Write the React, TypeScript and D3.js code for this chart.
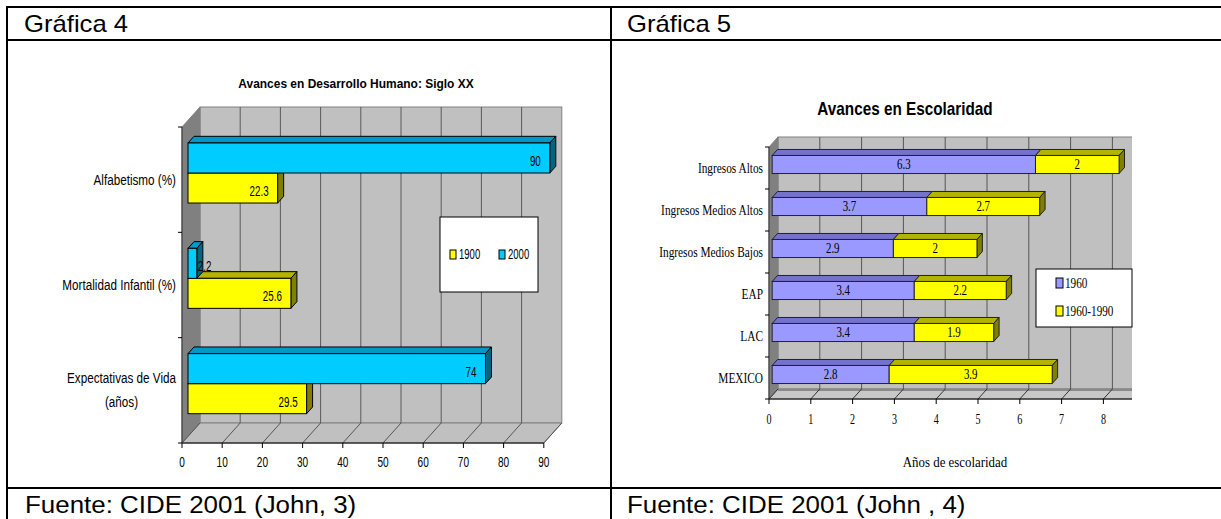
import React, { useEffect, useRef } from "react";
import * as d3 from "d3";

// ---------- data ----------
const headerLeft = "Gráfica 4";
const headerRight = "Gráfica 5";
const footerLeft = "Fuente: CIDE 2001 (John, 3)";
const footerRight = "Fuente: CIDE 2001 (John , 4)";

const leftTitle = "Avances en Desarrollo Humano: Siglo XX";
const leftCategories = ["Alfabetismo (%)", "Mortalidad Infantil (%)", "Expectativas de Vida\n(años)"];
const leftSeries = ["2000", "1900"];
const values1900 = [22.3, 25.6, 29.5];
const values2000 = [90, 2.2, 74];
const leftTicks = [0, 10, 20, 30, 40, 50, 60, 70, 80, 90];

const rightTitle = "Avances en Escolaridad";
const rightCategories = ["Ingresos Altos", "Ingresos Medios Altos", "Ingresos Medios Bajos", "EAP", "LAC", "MEXICO"];
const rightSeries = ["1960", "1960-1990"];
const values1960 = [6.3, 3.7, 2.9, 3.4, 3.4, 2.8];
const values1960to1990 = [2, 2.7, 2, 2.2, 1.9, 3.9];
const rightTicks = [0, 1, 2, 3, 4, 5, 6, 7, 8];
const rightAxisTitle = "Años de escolaridad";

// ---------- styles ----------
const SANS = "'Liberation Sans', Arial, Helvetica, sans-serif";
const SERIF = "'Liberation Serif', 'Times New Roman', serif";
const CYAN = { front: "#00ccff", top: "#0099c6", side: "#006680" };
const YELLOW = { front: "#ffff00", top: "#b3b300", side: "#808000" };
const BLUE = { front: "#9999ff", top: "#7373cc", side: "#4d4d80" };

type Sel = d3.Selection<any, any, any, any>;

function txt(g: Sel, x: number, y: number, s: string, size: number, family: string, opts: any = {}) {
  const { anchor = "start", sx = 1, weight = "normal", fill = "#000" } = opts;
  return g
    .append("text")
    .attr("transform", `translate(${x},${y}) scale(${sx},1)`)
    .attr("text-anchor", anchor)
    .attr("font-size", size)
    .attr("font-family", family)
    .attr("font-weight", weight)
    .attr("fill", fill)
    .text(s);
}

function poly(g: Sel, pts: number[][], fill: string, stroke: string, sw = 1) {
  return g
    .append("polygon")
    .attr("points", pts.map((p) => p.join(",")).join(" "))
    .attr("fill", fill)
    .attr("stroke", stroke)
    .attr("stroke-width", sw)
    .attr("stroke-linejoin", "round");
}

function bar3d(g: Sel, xa: number, xb: number, yt: number, h: number, ddx: number, ddy: number, c: any, side: boolean, stroke: string) {
  poly(g, [[xa, yt], [xb, yt], [xb + ddx, yt + ddy], [xa + ddx, yt + ddy]], c.top, stroke);
  if (side) poly(g, [[xb, yt], [xb + ddx, yt + ddy], [xb + ddx, yt + h + ddy], [xb, yt + h]], c.side, stroke);
  g.append("rect").attr("x", xa).attr("y", yt).attr("width", xb - xa).attr("height", h).attr("fill", c.front).attr("stroke", stroke);
}

function drawFrame(svg: Sel) {
  const g = svg.append("g");
  const line = (x1: number, y1: number, x2: number, y2: number) =>
    g.append("line").attr("x1", x1).attr("y1", y1).attr("x2", x2).attr("y2", y2).attr("stroke", "#000").attr("stroke-width", 2);
  line(6, 7, 1221, 7);
  line(6, 40, 1221, 40);
  line(6, 488, 1221, 488);
  line(7, 6, 7, 519);
  line(611, 6, 611, 519);
  txt(g, 24, 32, headerLeft, 24, SANS, { sx: 1.07 });
  txt(g, 627, 32, headerRight, 24, SANS, { sx: 1.07 });
  txt(g, 25, 513, footerLeft, 24, SANS, { sx: 1.08 });
  txt(g, 627, 513, footerRight, 24, SANS, { sx: 1.08 });
}

function drawLeft(svg: Sel) {
  const g = svg.append("g");
  const dx = 18, dy = -20;
  const t1 = 1 / 3, t2 = 2 / 3;
  const x = d3.scaleLinear().domain([0, 90]).range([182, 543.8]);
  const y = d3.scaleBand<string>().domain(leftCategories).range([127, 443]).paddingInner(0.43).paddingOuter(0.215);
  const ys = d3.scaleBand<string>().domain(leftSeries).range([0, y.bandwidth()]);
  const [x0, x1] = x.range();
  const [y0, y1] = y.range();

  // walls and floor
  g.append("rect").attr("x", x0 + dx).attr("y", y0 + dy).attr("width", x1 - x0).attr("height", y1 - y0)
    .attr("fill", "#c0c0c0").attr("stroke", "#808080");
  poly(g, [[x0, y0], [x0 + dx, y0 + dy], [x0 + dx, y1 + dy], [x0, y1]], "#808080", "#808080");
  poly(g, [[x0, y1], [x0 + dx, y1 + dy], [x1 + dx, y1 + dy], [x1, y1]], "#c0c0c0", "#808080");

  leftTicks.forEach((t) => {
    const px = x(t);
    if (t > 0 && t < 90)
      g.append("line").attr("x1", px + dx).attr("y1", y0 + dy).attr("x2", px + dx).attr("y2", y1 + dy).attr("stroke", "#5a5a5a");
    g.append("line").attr("x1", px).attr("y1", y1).attr("x2", px + dx).attr("y2", y1 + dy).attr("stroke", "#555");
    g.append("line").attr("x1", px).attr("y1", y1).attr("x2", px).attr("y2", y1 + 5).attr("stroke", "#000");
    txt(g, px, 467, String(t), 14, SANS, { anchor: "middle", sx: 0.72 });
  });
  g.append("line").attr("x1", x0).attr("y1", y1).attr("x2", x1).attr("y2", y1).attr("stroke", "#000");
  g.append("line").attr("x1", x0).attr("y1", y0).attr("x2", x0).attr("y2", y1).attr("stroke", "#333");
  d3.range(leftCategories.length + 1).forEach((i) => {
    const yy = y0 + i * y.step();
    g.append("line").attr("x1", x0 - 4).attr("y1", yy).attr("x2", x0).attr("y2", yy).attr("stroke", "#000");
  });

  // bars
  const ox = dx * t1, oy = dy * t1;
  const ddx = dx * (t2 - t1), ddy = dy * (t2 - t1);
  leftCategories.forEach((cat, i) => {
    const series = [
      { name: "1900", v: values1900[i], c: YELLOW },
      { name: "2000", v: values2000[i], c: CYAN },
    ];
    series.forEach((s) => {
      const yt = (y(cat) as number) + (ys(s.name) as number) + oy;
      const xa = x(0) + ox, xb = x(s.v) + ox;
      bar3d(g, xa, xb, yt, ys.bandwidth(), ddx, ddy, s.c, true, "#000");
      const cy = yt + ys.bandwidth() / 2 + 3;
      if (xb - xa > 30) txt(g, xb - 9, cy + 5, String(s.v), 14, SANS, { anchor: "end", sx: 0.7 });
      else txt(g, xb + 1, cy + 5, String(s.v), 14, SANS, { anchor: "start", sx: 0.7 });
    });
    // category label
    const lines = cat.split("\n");
    const cy = (y(cat) as number) + y.bandwidth() / 2;
    const size = 15, sx = 0.78;
    if (lines.length === 1) {
      txt(g, x0 - 6, cy + 5, lines[0], size, SANS, { anchor: "end", sx });
    } else {
      const nodes = lines.map((l) => txt(g, 0, 0, l, size, SANS, { anchor: "middle", sx }));
      const maxW = d3.max(nodes, (n) => (n.node() as SVGTextElement).getComputedTextLength() * sx) || 0;
      nodes.forEach((n, j) => {
        const by = cy + (j - (lines.length - 1) / 2) * 24 + 5;
        n.attr("transform", `translate(${x0 - 6 - maxW / 2},${by}) scale(${sx},1)`);
      });
    }
  });

  // legend
  const lg = g.append("g");
  lg.append("rect").attr("x", 440).attr("y", 217).attr("width", 98).attr("height", 75).attr("fill", "#fff").attr("stroke", "#000");
  const legendItems = [
    { name: "1900", c: YELLOW.front, x: 450 },
    { name: "2000", c: CYAN.front, x: 499 },
  ];
  legendItems.forEach((it) => {
    lg.append("rect").attr("x", it.x).attr("y", 250).attr("width", 6).attr("height", 9).attr("fill", it.c).attr("stroke", "#000");
    txt(lg, it.x + 9, 259, it.name, 14, SANS, { sx: 0.68 });
  });

  txt(g, 356, 88, leftTitle, 13, SANS, { anchor: "middle", weight: "bold", sx: 0.92 });
}

function drawRight(svg: Sel) {
  const g = svg.append("g");
  const clipId = "rclip";
  svg.append("defs").append("clipPath").attr("id", clipId).append("rect").attr("x", 612).attr("y", 42).attr("width", 1132 - 612).attr("height", 440);
  const pg = g.append("g").attr("clip-path", `url(#${clipId})`);
  const dx = 9, dy = -10;
  const t1 = 0.35, t2 = 0.95;
  const x = d3.scaleLinear().domain([0, 9]).range([769, 769 + 9 * 41.8]);
  const y = d3.scaleBand<string>().domain(rightCategories).range([147, 399]).paddingInner(0.57).paddingOuter(0.285);
  const [x0, x1] = x.range();
  const [y0, y1] = y.range();

  pg.append("rect").attr("x", x0 + dx).attr("y", y0 + dy).attr("width", x1 - x0).attr("height", y1 - y0)
    .attr("fill", "#c0c0c0").attr("stroke", "#808080");
  poly(pg, [[x0, y0], [x0 + dx, y0 + dy], [x0 + dx, y1 + dy], [x0, y1]], "#808080", "#808080");
  poly(pg, [[x0, y1], [x0 + dx, y1 + dy], [x1 + dx, y1 + dy], [x1, y1]], "#c8c8c8", "#808080");
  pg.append("line").attr("x1", x0 + dx).attr("y1", y1 + dy + 1).attr("x2", x1 + dx).attr("y2", y1 + dy + 1).attr("stroke", "#8a8a8a").attr("stroke-width", 2);

  x.ticks(9).forEach((t) => {
    const px = x(t);
    if (t > 0)
      pg.append("line").attr("x1", px + dx).attr("y1", y0 + dy).attr("x2", px + dx).attr("y2", y1 + dy).attr("stroke", "#555");
    pg.append("line").attr("x1", px).attr("y1", y1).attr("x2", px + dx).attr("y2", y1 + dy).attr("stroke", "#333");
  });
  pg.append("line").attr("x1", x0).attr("y1", y1).attr("x2", x1).attr("y2", y1).attr("stroke", "#000");
  g.append("line").attr("x1", x0).attr("y1", y0).attr("x2", x0).attr("y2", y1).attr("stroke", "#333");
  rightTicks.forEach((t) => {
    const px = x(t);
    g.append("line").attr("x1", px).attr("y1", y1).attr("x2", px).attr("y2", y1 + 5).attr("stroke", "#000");
    txt(g, px, 423.5, String(t), 14, SERIF, { anchor: "middle", sx: 0.72 });
  });
  d3.range(rightCategories.length + 1).forEach((i) => {
    const yy = y0 + i * y.step();
    g.append("line").attr("x1", x0 - 4).attr("y1", yy).attr("x2", x0).attr("y2", yy).attr("stroke", "#000");
  });

  const ox = dx * t1, oy = dy * t1;
  const ddx = dx * (t2 - t1), ddy = dy * (t2 - t1);
  rightCategories.forEach((cat, i) => {
    const a = values1960[i], b = values1960to1990[i];
    const yt = (y(cat) as number) + oy;
    const h = y.bandwidth();
    const xa = x(0) + ox, xm = x(a) + ox, xb = x(a + b) + ox;
    bar3d(g, xa, xm, yt, h, ddx, ddy, BLUE, false, "#222");
    bar3d(g, xm, xb, yt, h, ddx, ddy, YELLOW, true, "#222");
    const cy = yt + h / 2;
    txt(g, (xa + xm) / 2, cy + 4.5, String(a), 14, SERIF, { anchor: "middle", sx: 0.78 });
    txt(g, (xm + xb) / 2, cy + 4.5, String(b), 14, SERIF, { anchor: "middle", sx: 0.78 });
    const lc = (y(cat) as number) + h / 2;
    txt(g, x0 - 6, lc + 5, cat, 14, SERIF, { anchor: "end", sx: 0.81 });
  });

  // legend
  const lg = g.append("g");
  lg.append("rect").attr("x", 1036).attr("y", 269).attr("width", 96).attr("height", 58).attr("fill", "#fff").attr("stroke", "#000");
  const items = [
    { name: rightSeries[0], c: BLUE.front, y: 283 },
    { name: rightSeries[1], c: YELLOW.front, y: 311 },
  ];
  items.forEach((it) => {
    lg.append("rect").attr("x", 1056).attr("y", it.y - 5).attr("width", 7).attr("height", 10).attr("fill", it.c).attr("stroke", "#000");
    txt(lg, 1065, it.y + 5, it.name, 14, SERIF, { sx: 0.8 });
  });

  txt(g, 955, 467, rightAxisTitle, 14, SERIF, { anchor: "middle", sx: 0.92 });
  txt(g, 905, 115, rightTitle, 18, SANS, { anchor: "middle", weight: "bold", sx: 0.85 });
}

export default function App() {
  const ref = useRef<SVGSVGElement>(null);
  useEffect(() => {
    const svg = d3.select(ref.current);
    svg.selectAll("*").remove();
    svg.append("rect").attr("width", 1221).attr("height", 519).attr("fill", "#fff");
    drawLeft(svg);
    drawRight(svg);
    drawFrame(svg);
  }, []);
  return (
    <svg
      ref={ref}
      width={1221}
      height={519}
      style={{ position: "absolute", left: 0, top: 0, display: "block" }}
    />
  );
}
